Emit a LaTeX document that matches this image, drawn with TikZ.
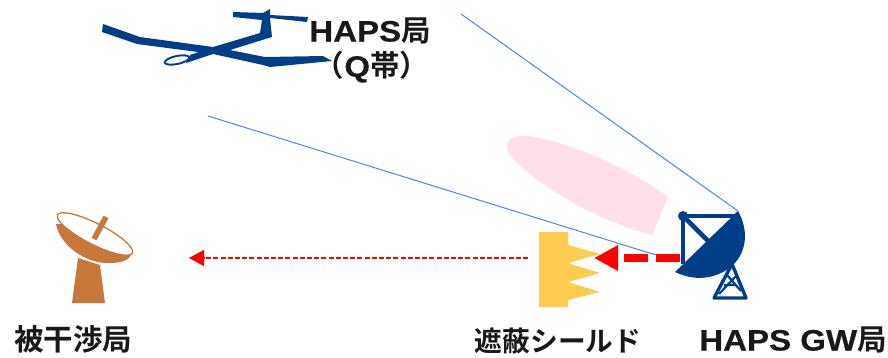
\documentclass[tikz,border=0pt]{standalone}
\usepackage{fontspec}
\setmainfont{Noto Sans CJK JP}[BoldFont={Noto Sans CJK JP Bold}]
\newfontfamily\lat{Liberation Sans}[FakeStretch=1.12,FakeBold=0.4]
\usetikzlibrary{arrows.meta}
\definecolor{navy}{HTML}{003F87}
\definecolor{beam}{HTML}{4A86E8}
\definecolor{pinkb}{HTML}{FFE0E9}
\definecolor{shield}{HTML}{FFCC50}
\definecolor{dishc}{HTML}{C8773A}
\tikzset{
 lbl/.style={font=\fontsize{29.5}{34}\selectfont\bfseries,text=black!90,inner sep=0pt,align=center},
 lblsmall/.style={lbl,font=\fontsize{27.7}{32}\selectfont\bfseries},
 beamline/.style={draw=beam,line width=1pt},
 barline/.style={draw=navy,line width=4.6pt},
 towerline/.style={draw=navy,line width=3.4pt,line join=round},
 redfine/.style={draw=red,line width=1.3pt,dash pattern=on 5pt off 2.2pt,-{Triangle[length=15pt,width=16pt]}},
 redthick/.style={draw=red,line width=8pt,dash pattern=on 24pt off 8pt,-{Triangle[length=24pt,width=24pt]}},
}
\begin{document}
\begin{tikzpicture}[x=1pt,y=-1pt]
\useasboundingbox (0,0) rectangle (888,357);
% beam
\fill[pinkb] (668,197) -- (652,235) .. controls (600,222) and (535,185) .. (510,155) .. controls (500,140) and (515,133) .. (535,137) .. controls (580,146) and (635,172) .. (668,197) -- cycle;
% plane
\fill[navy] (103,24) -- (140,37) -- (213,47) -- (260,33) -- (262,20) -- (233,17) -- (233,12) -- (263,13) -- (270,9) -- (270,15) -- (308,17) -- (307,22) -- (270,18) -- (272,37) -- (230,50) -- (265,57) -- (323,56) -- (332,61) -- (270,67) -- (263,65) -- (213,54) -- (137,44) -- (102,32) -- cycle;
\fill[navy] (213,47) -- (190,55) -- (186,63) -- (213,54) -- cycle;
\draw[navy,line width=1.9pt,rotate around={12:(177,60)}] (177,60) ellipse (12.5pt and 4pt);
% labels
\node[lbl] (haps) at (370,31) {{\lat HAPS}局};
\node[lbl] (qband) at (372,67) {（{\lat Q}帯）};
\node[lbl] (victim) at (73,339) {被干渉局};
\node[lblsmall] (shieldlbl) at (558,341) {遮蔽シールド};
\node[lbl] (gwlbl) at (793,340) {{\lat HAPS GW}局};
% shield
\fill[shield] (539,232) -- (568,232) -- (568,245) -- (600,254) -- (568,263) -- (600,273) -- (568,282) -- (600,292) -- (568,300) -- (568,307) -- (539,307) -- cycle;
\coordinate (shieldface) at (594,258);
\coordinate (shieldback) at (528,258);
\coordinate (victimend) at (189,258);
\coordinate (gwfeed) at (680,258);
\coordinate (apex) at (738,211);
\coordinate (beamtop) at (461,14);
\coordinate (beamlow) at (208,116);
\coordinate (beamend) at (656,255);
% beam lines
\draw[beamline] (apex) -- (beamtop);
\draw[beamline] (beamend) -- (beamlow);
% red arrows
\draw[redfine] (shieldback) -- (victimend);
\draw[redthick] (gwfeed) -- (shieldface);
% GW antenna
\fill[navy] (738,211) .. controls (750,232) and (747,258) .. (725,271) .. controls (707,281) and (690,279) .. (675,272) -- cycle;
\draw[barline] (683,216) -- (738,216);
\draw[barline] (683,216) -- (683,264);
\draw[barline] (683,216) -- (710,243);
\fill[navy] (683,216) circle (5pt);
% tower
\draw[towerline] (732,264) -- (714,298) -- (746,298) -- cycle;
\draw[navy,line width=2.2pt] (727,275) -- (741,291) (737,275) -- (719,294) (724,285) -- (736,285);
% victim dish
\fill[dishc] (78,258) -- (100,265) -- (105,303) -- (72,303) -- cycle;
\fill[dishc] (56,224) .. controls (60,245) and (85,264) .. (110,263) .. controls (122,263) and (130,260) .. (132,253) -- (100,225) -- cycle;
\draw[dishc,line width=1.3pt,fill=white,rotate around={-27:(95,234)}] (95,234) ellipse (42pt and 10.5pt);
\draw[dishc,line width=5.5pt] (94,239) -- (106,217);
\end{tikzpicture}
\end{document}
